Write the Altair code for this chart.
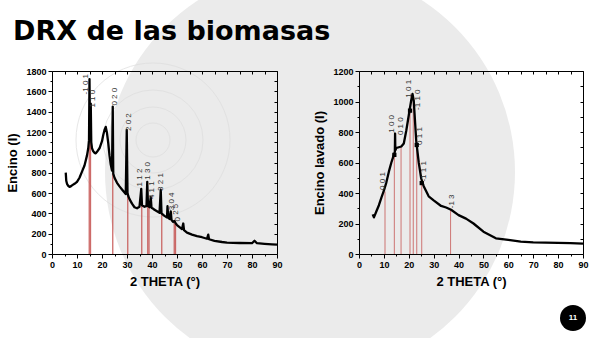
import altair as alt
import pandas as pd

# ---------------- data ----------------
left_theta = [5.5, 5.7, 6, 6.5, 7, 7.5, 8, 9, 10, 11, 12, 13, 13.5, 14, 14.5, 14.8, 15.0, 15.2, 15.5, 15.7,
              16, 16.5, 17, 17.5, 18, 19, 20, 20.5, 21, 21.5, 22, 22.5, 23, 23.5, 24, 24.3, 24.5, 25, 26, 27,
              28, 29, 29.5, 29.9, 30.2, 30.5, 31, 32, 33, 34, 35, 35.7, 36, 37, 37.8, 38.1, 38.4, 39, 39.5,
              39.8, 40.5, 41, 42, 43, 43.5, 43.8, 44.5, 45, 46, 46.2, 46.5, 47, 47.5, 47.8, 48.5, 49, 49.5,
              50, 51, 52, 52.5, 52.8, 54, 56, 58, 60, 62, 62.5, 62.8, 65, 68, 70, 75, 80, 81, 82, 85, 88, 90]
left_intensity = [800, 720, 690, 670, 660, 665, 675, 690, 710, 750, 810, 870, 920, 970, 1040, 1120, 1720, 1200,
                  1480, 1100, 1040, 1010, 995, 990, 1005, 1040, 1110, 1170, 1220, 1250, 1190, 1090, 970, 880,
                  820, 1450, 790, 750, 700, 665, 635, 605, 590, 1220, 600, 570, 540, 495, 460, 450, 465, 640,
                  480, 465, 470, 710, 475, 460, 560, 455, 445, 435, 420, 405, 630, 400, 385, 375, 360, 470, 355,
                  345, 420, 335, 315, 325, 300, 285, 265, 245, 300, 235, 210, 190, 175, 165, 150, 190, 145, 130,
                  118, 112, 108, 106, 130, 106, 100, 95, 92]

right_theta = [5.5, 6, 7, 8, 9, 10, 11, 12, 13, 14, 14.4, 14.5, 14.6, 15, 16, 17, 18, 19, 20, 21, 21.5, 22,
               23, 24, 25, 26, 28, 30, 33, 35, 37, 40, 43, 46, 50, 55, 60, 65, 70, 75, 80, 85, 90]
right_intensity = [260, 240, 280, 320, 370, 415, 470, 540, 600, 650, 670, 790, 680, 695, 700, 705, 725, 810,
                   910, 1010, 1050, 1005, 740, 600, 495, 445, 378, 352, 315, 305, 290, 255, 232, 200, 146, 103,
                   92, 81, 76, 74, 73, 71, 68]

left_ref_theta = [14.9, 15.4, 24.3, 30.3, 35.9, 38.3, 38.8, 43.9, 48.9, 49.4]
left_ref_height = [1250, 1220, 790, 600, 480, 470, 460, 400, 305, 295]
right_ref_theta = [10.45, 14.2, 16.9, 20.5, 21.8, 23.2, 25.2, 36.8]
right_ref_height = [410, 650, 705, 945, 1030, 725, 470, 290]

right_mark_theta = [14.2, 20.5, 23.2, 25.2]
right_mark_value = [650, 940, 715, 465]

left_labels = ["-1 0 1", "1 1 0", "0 2 0", "2 0 2", "1 1 2", "1 3 0", "4 1 1", "3 2 1", "3 0 4", "2 5", "0"]
left_label_theta = [13.6, 16.5, 25.3, 30.7, 35.2, 38.5, 39.9, 43.6, 47.8, 49.4, 50.3]
left_label_base = [1570, 1440, 1460, 1210, 665, 730, 540, 620, 430, 385, 320]

right_labels = ["0 0 1", "1 0 0", "0 1 0", "1 0 1", "-1 1 0", "0 1 1", "-1 1 1", "-1 3"]
right_label_theta = [9.8, 13.3, 16.8, 20.2, 23.6, 24.4, 26.2, 37.2]
right_label_base = [420, 795, 780, 1025, 945, 715, 475, 300]

x_ticks = list(range(0, 91, 10))
x_minor = list(range(5, 90, 10))
x_frame = list(range(0, 91, 5))
left_y_ticks = list(range(0, 1801, 200))
left_y_minor = list(range(100, 1800, 200))
right_y_ticks = list(range(0, 1201, 200))
right_y_minor = list(range(100, 1200, 200))

# ---------------- layout / style ----------------
W, H = 600, 338
FONT = "Liberation Sans"
Y_RANGE = [254, 71]
RED = "#c4504e"


def ax(**kw):
    base = dict(zindex=1, domainColor="black", tickColor="black", labelColor="black", titleColor="black",
                domainWidth=1, tickWidth=1, grid=False, labelFont=FONT, titleFont=FONT,
                labelFontWeight="bold", titleFontWeight="bold", labelFontSize=9, titleFontSize=13,
                labelFlush=False, labelOverlap=False, format="d")
    base.update(kw)
    return alt.Axis(**base)


def panel(theta, inten, ref_t, ref_h, lab_txt, lab_t, lab_y, xr, ymax, yt, ym, ytitle, red_w):
    sx = alt.Scale(domain=[0, 90], range=xr, nice=False, zero=False)
    sy = alt.Scale(domain=[0, ymax], range=Y_RANGE, nice=False, zero=False)
    curve_df = pd.DataFrame({"t": theta, "v": inten})
    ref_df = pd.DataFrame({"t": ref_t, "h0": [0] * len(ref_t), "h": ref_h})
    lab_df = pd.DataFrame({"t": lab_t, "v": lab_y, "txt": lab_txt})

    rules = alt.Chart(ref_df).mark_rule(color=RED, strokeWidth=red_w, opacity=0.85).encode(
        x=alt.X("t:Q", scale=sx, axis=ax(orient="bottom", offset=Y_RANGE[1] - H, values=x_frame,
                                          labels=False, title="", tickSize=3)),
        y=alt.Y("h0:Q", scale=sy, axis=ax(orient="left", offset=-xr[1], values=yt + ym,
                                           labels=False, title="", tickSize=3)),
        y2="h:Q",
    )
    line = alt.Chart(curve_df).mark_line(color="black", strokeWidth=2.3, strokeJoin="round").encode(
        x=alt.X("t:Q", scale=sx, axis=ax(orient="bottom", offset=Y_RANGE[0] - H, values=x_ticks,
                                          tickSize=4, labelPadding=2, title="2 THETA (°)", titlePadding=6)),
        y=alt.Y("v:Q", scale=sy, axis=ax(orient="left", offset=-xr[0], values=yt, tickSize=4,
                                          labelPadding=2, title=ytitle, titlePadding=6)),
    )
    texts = alt.Chart(lab_df).mark_text(angle=270, align="left", baseline="middle", font=FONT,
                                        fontSize=8, color="#333333").encode(
        x=alt.X("t:Q", scale=sx, axis=ax(orient="bottom", offset=Y_RANGE[0] - H, values=x_minor,
                                          labels=False, domain=False, tickSize=2, title="")),
        y=alt.Y("v:Q", scale=sy, axis=ax(orient="left", offset=-xr[0], values=ym, labels=False,
                                          domain=False, tickSize=2, title="")),
        text="txt:N",
    )
    return [rules, line, texts], sx, sy


# decorative slide background
bg_df = pd.DataFrame({"k": [0]})
bg = alt.Chart(bg_df).mark_point(shape="circle", filled=True, color="#ebebeb", opacity=1).encode(
    x=alt.value(310), y=alt.value(172), size=alt.value(410 * 410))
rings = [alt.Chart(bg_df).mark_point(shape="circle", filled=False, color="#dedede", strokeWidth=1,
                                     opacity=0.7).encode(x=alt.value(153), y=alt.value(140),
                                                         size=alt.value(d * d))
         for d in (34, 66, 100, 154)]
title = alt.Chart(bg_df).mark_text(text="DRX de las biomasas", font="DejaVu Sans", fontSize=27,
                                   fontWeight="bold", align="left", baseline="alphabetic",
                                   color="black").encode(x=alt.value(13), y=alt.value(40))
badge = alt.Chart(bg_df).mark_point(shape="circle", filled=True, color="black", opacity=1).encode(
    x=alt.value(573), y=alt.value(318), size=alt.value(26 * 26))
badge_txt = alt.Chart(bg_df).mark_text(text="11", font=FONT, fontSize=8, fontWeight="bold", color="white",
                                       align="center", baseline="middle").encode(
    x=alt.value(573), y=alt.value(318))

left_layers, _, _ = panel(left_theta, left_intensity, left_ref_theta, left_ref_height, left_labels,
                          left_label_theta, left_label_base, [52, 277], 1800, left_y_ticks, left_y_minor,
                          "Encino (I)", 1.3)
right_layers, rsx, rsy = panel(right_theta, right_intensity, right_ref_theta, right_ref_height, right_labels,
                               right_label_theta, right_label_base, [359, 583], 1200, right_y_ticks,
                               right_y_minor, "Encino lavado (I)", 0.9)
squares = alt.Chart(pd.DataFrame({"t": right_mark_theta, "v": right_mark_value})).mark_point(
    shape="square", filled=True, color="black", size=18, opacity=1).encode(
    x=alt.X("t:Q", scale=rsx, axis=None), y=alt.Y("v:Q", scale=rsy, axis=None))

chart = alt.layer(bg, *rings, title, *left_layers, *right_layers, squares, badge, badge_txt).resolve_scale(
    x="independent", y="independent"
).properties(
    width=W, height=H, autosize=alt.AutoSizeParams(type="none"), padding=0, background="white"
).configure_view(stroke=None)

chart.save("out.html", embed_options={"renderer": "svg", "actions": False})
